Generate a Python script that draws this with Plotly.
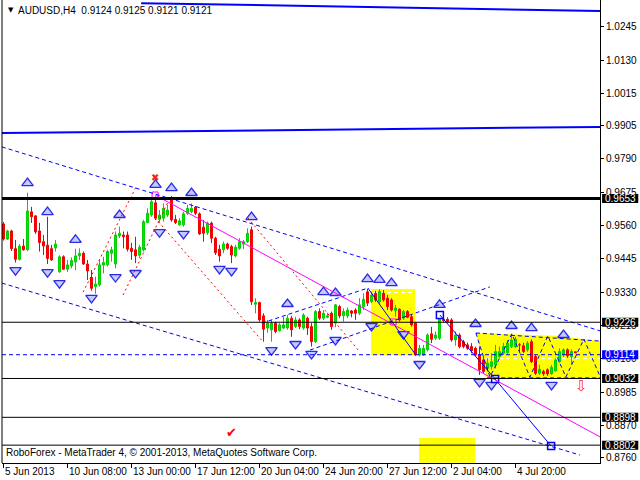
import plotly.graph_objects as go

# ---------------- candle data (H4 bars) ----------------
opens = [0.9565, 0.9513, 0.9541, 0.9480, 0.9443, 0.9489, 0.9476, 0.9607, 0.9593, 0.9541,
         0.9504, 0.9492, 0.9480, 0.9482, 0.9400, 0.9452, 0.9409, 0.9420, 0.9434, 0.9455,
         0.9464, 0.9427, 0.9381, 0.9349, 0.9355, 0.9423, 0.9424, 0.9464, 0.9427, 0.9524,
         0.9527, 0.9527, 0.9481, 0.9476, 0.9457, 0.9476, 0.9570, 0.9596, 0.9638, 0.9581,
         0.9585, 0.9596, 0.9648, 0.9581, 0.9562, 0.9562, 0.9602, 0.9607, 0.9623, 0.9600,
         0.9554, 0.9535, 0.9568, 0.9516, 0.9478, 0.9476, 0.9496, 0.9487, 0.9455, 0.9481,
         0.9496, 0.9504, 0.9545, 0.9288, 0.9294, 0.9248, 0.9206, 0.9200, 0.9223, 0.9197,
         0.9206, 0.9206, 0.9240, 0.9211, 0.9234, 0.9206, 0.9240, 0.9211, 0.9159, 0.9263,
         0.9240, 0.9243, 0.9257, 0.9223, 0.9280, 0.9248, 0.9248, 0.9265, 0.9268, 0.9257,
         0.9280, 0.9331, 0.9297, 0.9326, 0.9297, 0.9326, 0.9309, 0.9303, 0.9266, 0.9271,
         0.9240, 0.9263, 0.9245, 0.9223, 0.9113, 0.9113, 0.9131, 0.9186, 0.9171, 0.9171,
         0.9236, 0.9236, 0.9234, 0.9165, 0.9182, 0.9159, 0.9148, 0.9142, 0.9136, 0.9113,
         0.9096, 0.9067, 0.9073, 0.9079, 0.9108, 0.9119, 0.9121, 0.9142, 0.9142, 0.9148,
         0.9145, 0.9131, 0.9159, 0.9108, 0.9050, 0.9056, 0.9062, 0.9048, 0.9059, 0.9090,
         0.9113, 0.9131, 0.9108, 0.9124]
highs = [0.9572, 0.9545, 0.9545, 0.9510, 0.9496, 0.9513, 0.9673, 0.9624, 0.9596, 0.9569,
         0.9527, 0.9590, 0.9493, 0.9510, 0.9457, 0.9457, 0.9441, 0.9450, 0.9480, 0.9481,
         0.9470, 0.9441, 0.9406, 0.9383, 0.9441, 0.9452, 0.9476, 0.9487, 0.9539, 0.9556,
         0.9539, 0.9539, 0.9500, 0.9521, 0.9493, 0.9579, 0.9619, 0.9650, 0.9660, 0.9613,
         0.9636, 0.9631, 0.9662, 0.9596, 0.9585, 0.9607, 0.9631, 0.9636, 0.9627, 0.9605,
         0.9579, 0.9573, 0.9573, 0.9521, 0.9493, 0.9504, 0.9501, 0.9493, 0.9493, 0.9516,
         0.9510, 0.9550, 0.9556, 0.9309, 0.9297, 0.9257, 0.9234, 0.9234, 0.9228, 0.9223,
         0.9245, 0.9251, 0.9248, 0.9245, 0.9240, 0.9257, 0.9245, 0.9223, 0.9268, 0.9274,
         0.9268, 0.9259, 0.9263, 0.9289, 0.9286, 0.9274, 0.9277, 0.9268, 0.9274, 0.9309,
         0.9326, 0.9341, 0.9331, 0.9334, 0.9340, 0.9337, 0.9320, 0.9309, 0.9286, 0.9274,
         0.9268, 0.9268, 0.9251, 0.9225, 0.9148, 0.9148, 0.9188, 0.9210, 0.9194, 0.9248,
         0.9240, 0.9243, 0.9240, 0.9194, 0.9188, 0.9165, 0.9156, 0.9154, 0.9142, 0.9142,
         0.9106, 0.9102, 0.9119, 0.9148, 0.9142, 0.9155, 0.9165, 0.9182, 0.9176, 0.9154,
         0.9155, 0.9161, 0.9167, 0.9113, 0.9079, 0.9062, 0.9067, 0.9079, 0.9102, 0.9136,
         0.9136, 0.9136, 0.9133, 0.9125]
lows = [0.9508, 0.9510, 0.9472, 0.9432, 0.9439, 0.9473, 0.9471, 0.9569, 0.9531, 0.9470,
        0.9458, 0.9427, 0.9438, 0.9470, 0.9397, 0.9406, 0.9400, 0.9412, 0.9406, 0.9441,
        0.9424, 0.9372, 0.9335, 0.9324, 0.9349, 0.9395, 0.9418, 0.9435, 0.9412, 0.9516,
        0.9481, 0.9470, 0.9441, 0.9430, 0.9447, 0.9470, 0.9568, 0.9590, 0.9579, 0.9570,
        0.9573, 0.9590, 0.9573, 0.9565, 0.9559, 0.9556, 0.9596, 0.9602, 0.9596, 0.9527,
        0.9504, 0.9527, 0.9499, 0.9458, 0.9435, 0.9464, 0.9476, 0.9430, 0.9450, 0.9476,
        0.9478, 0.9499, 0.9286, 0.9257, 0.9228, 0.9159, 0.9190, 0.9159, 0.9188, 0.9194,
        0.9202, 0.9200, 0.9176, 0.9206, 0.9202, 0.9200, 0.9182, 0.9142, 0.9154, 0.9234,
        0.9234, 0.9240, 0.9200, 0.9209, 0.9240, 0.9228, 0.9240, 0.9243, 0.9234, 0.9251,
        0.9268, 0.9282, 0.9292, 0.9296, 0.9286, 0.9297, 0.9268, 0.9263, 0.9245, 0.9228,
        0.9234, 0.9240, 0.9211, 0.9110, 0.9108, 0.9110, 0.9125, 0.9154, 0.9165, 0.9165,
        0.9225, 0.9225, 0.9159, 0.9145, 0.9136, 0.9136, 0.9131, 0.9119, 0.9110, 0.9044,
        0.9050, 0.9056, 0.9062, 0.9067, 0.9103, 0.9113, 0.9117, 0.9137, 0.9137, 0.9125,
        0.9120, 0.9124, 0.9085, 0.9044, 0.9044, 0.9041, 0.9041, 0.9044, 0.9055, 0.9086,
        0.9106, 0.9103, 0.9079, 0.9121]
closes = [0.9513, 0.9541, 0.9480, 0.9443, 0.9489, 0.9476, 0.9610, 0.9590, 0.9538, 0.9501,
          0.9489, 0.9446, 0.9441, 0.9496, 0.9452, 0.9409, 0.9424, 0.9439, 0.9455, 0.9464,
          0.9427, 0.9403, 0.9343, 0.9358, 0.9424, 0.9432, 0.9470, 0.9476, 0.9527, 0.9533,
          0.9521, 0.9478, 0.9470, 0.9455, 0.9485, 0.9573, 0.9602, 0.9642, 0.9585, 0.9596,
          0.9619, 0.9613, 0.9579, 0.9570, 0.9576, 0.9600, 0.9619, 0.9619, 0.9602, 0.9531,
          0.9533, 0.9568, 0.9516, 0.9466, 0.9455, 0.9496, 0.9481, 0.9458, 0.9485, 0.9504,
          0.9504, 0.9533, 0.9297, 0.9294, 0.9234, 0.9202, 0.9223, 0.9223, 0.9194, 0.9217,
          0.9217, 0.9240, 0.9200, 0.9234, 0.9211, 0.9251, 0.9206, 0.9159, 0.9263, 0.9240,
          0.9257, 0.9248, 0.9211, 0.9286, 0.9248, 0.9263, 0.9268, 0.9257, 0.9257, 0.9286,
          0.9305, 0.9292, 0.9320, 0.9303, 0.9332, 0.9303, 0.9280, 0.9268, 0.9275, 0.9234,
          0.9263, 0.9243, 0.9217, 0.9113, 0.9136, 0.9136, 0.9182, 0.9167, 0.9182, 0.9240,
          0.9232, 0.9228, 0.9165, 0.9182, 0.9142, 0.9142, 0.9136, 0.9128, 0.9113, 0.9062,
          0.9056, 0.9085, 0.9090, 0.9125, 0.9125, 0.9142, 0.9154, 0.9165, 0.9167, 0.9148,
          0.9125, 0.9154, 0.9090, 0.9050, 0.9064, 0.9048, 0.9048, 0.9071, 0.9096, 0.9125,
          0.9131, 0.9110, 0.9125, 0.9121]
bars = list(range(len(opens)))

# ---------------- axes ----------------
x_tick_bars = [0, 16, 32, 48, 64, 80, 96, 112, 128]
x_tick_labels = ["5 Jun 2013", "10 Jun 08:00", "13 Jun 00:00", "17 Jun 12:00", "20 Jun 04:00",
                 "24 Jun 20:00", "27 Jun 12:00", "2 Jul 04:00", "4 Jul 20:00"]
y_tick_values = [1.0245, 1.0130, 1.0015, 0.9905, 0.9790, 0.9675, 0.9560, 0.9445, 0.9330,
                 0.9215, 0.9100, 0.8985, 0.8870, 0.8760]

# ---------------- levels / tags ----------------
level_values = [0.9653, 0.9226, 0.9032, 0.8898, 0.8802]
level_widths = [3, 1, 1, 1, 1]
dashed_level = 0.9114
tag_values = [0.9653, 0.9226, 0.9114, 0.9032, 0.8898, 0.8802]
tag_colors = ["black", "black", "#0000ff", "black", "black", "black"]

# ---------------- fractals ----------------
fractal_up_bars = [6, 11, 18, 29, 38, 42, 47, 62, 71, 80, 83, 91, 94, 97, 109, 118, 127, 132, 140]
fractal_up_prices = [0.9706, 0.9606, 0.9510, 0.9596, 0.9700, 0.9689, 0.9672, 0.9589, 0.9289, 0.9330,
                     0.9327, 0.9375, 0.9372, 0.9361, 0.9286, 0.9220, 0.9213, 0.9206, 0.9182]
fractal_dn_bars = [3, 11, 14, 22, 28, 33, 39, 45, 54, 57, 67, 73, 77, 83, 92, 100, 104, 119, 122, 137]
fractal_dn_prices = [0.9406, 0.9399, 0.9361, 0.9310, 0.9382, 0.9396, 0.9537, 0.9531, 0.9410, 0.9403,
                     0.9130, 0.9151, 0.9117, 0.9165, 0.9213, 0.9185, 0.9082, 0.9020, 0.9010, 0.9010]

# ---------------- drawn objects (bar index, price) ----------------
blue_thick_lines = [[(34.4, 1.0327), (149.2, 1.0300)],
                    [(-0.4, 0.9879), (149.2, 0.9900)]]
blue_dashed_lines = [[(-0.4, 0.9831), (149.2, 0.9196)],
                     [(-0.4, 0.9361), (144.1, 0.8768)],
                     [(64.6, 0.9223), (91.1, 0.9344)],
                     [(76.6, 0.9130), (121.6, 0.9348)],
                     [(118.1, 0.9189), (121.6, 0.9037), (127.1, 0.9186), (131.6, 0.9037),
                      (136.1, 0.9179), (140.6, 0.9037), (145.1, 0.9168), (149.2, 0.9037)],
                     [(118.1, 0.9189), (149.2, 0.9161)],
                     [(120.9, 0.9034), (149.2, 0.9034)]]
blue_solid_lines = [[(109.1, 0.9251), (122.9, 0.9030), (136.9, 0.8799)],
                    [(91.1, 0.9344), (103.1, 0.9113)]]
red_dotted_lines = [[(19.9, 0.9330), (33.4, 0.9700)],
                    [(29.9, 0.9320), (41.1, 0.9640)],
                    [(37.9, 0.9586), (64.9, 0.9158)],
                    [(61.1, 0.9586), (89.1, 0.9123)]]
magenta_lines = [[(37.9, 0.9665), (149.2, 0.8830)]]
yellow_rects = [(91.9, 0.9341, 102.9, 0.9113), (103.9, 0.8827, 117.9, 0.8741)]
yellow_polys = [[(118.1, 0.9189), (138.1, 0.9179), (149.2, 0.9161), (149.2, 0.9034), (120.9, 0.9034)]]
magenta_square_bars = [37.9, 97.4]
magenta_square_prices = [0.9665, 0.9227]
blue_square_bars = [109.1, 122.9, 136.9]
blue_square_prices = [0.9251, 0.9030, 0.8799]
red_cross = (37.9, 0.9724)
red_check = (57.1, 0.8847)
red_down = (144.4, 0.9006)

FONT = "Liberation Sans, Arial, sans-serif"

fig = go.Figure()
fig.add_trace(go.Candlestick(
    x=bars, open=opens, high=highs, low=lows, close=closes,
    increasing=dict(line=dict(color="#00d000", width=1), fillcolor="#00e800"),
    decreasing=dict(line=dict(color="#f00000", width=1), fillcolor="#ff0000"),
    whiskerwidth=0, hoverinfo="skip"))

fig.add_trace(go.Scatter(
    x=fractal_up_bars, y=fractal_up_prices, mode="markers",
    marker=dict(symbol="triangle-up", size=10, color="#c4caff",
                line=dict(color="#2a2ae6", width=1.3)), hoverinfo="skip"))
fig.add_trace(go.Scatter(
    x=fractal_dn_bars, y=fractal_dn_prices, mode="markers",
    marker=dict(symbol="triangle-down", size=10, color="#c4caff",
                line=dict(color="#2a2ae6", width=1.3)), hoverinfo="skip"))
fig.add_trace(go.Scatter(
    x=magenta_square_bars, y=magenta_square_prices, mode="markers",
    marker=dict(symbol="square-open", size=6, color="#ff00ff", line=dict(width=1)),
    hoverinfo="skip"))
fig.add_trace(go.Scatter(
    x=blue_square_bars, y=blue_square_prices, mode="markers",
    marker=dict(symbol="square", size=7, color="white", line=dict(color="#0000ff", width=1.5)),
    hoverinfo="skip"))

shapes = []


def path_of(pts, close=False):
    s = "M " + " L ".join(f"{x},{y}" for x, y in pts)
    return s + (" Z" if close else "")


for x0, y0, x1, y1 in yellow_rects:
    shapes.append(dict(type="rect", xref="x", yref="y", x0=x0, x1=x1, y0=y0, y1=y1,
                       fillcolor="#ffff00", line=dict(width=0), layer="below"))
for pts in yellow_polys:
    shapes.append(dict(type="path", xref="x", yref="y", path=path_of(pts, True),
                       fillcolor="#ffff00", line=dict(width=0), layer="below"))

for pts in blue_thick_lines:
    shapes.append(dict(type="path", xref="x", yref="y", path=path_of(pts),
                       line=dict(color="#0000ff", width=2)))
for pts in blue_dashed_lines:
    shapes.append(dict(type="path", xref="x", yref="y", path=path_of(pts),
                       line=dict(color="#0000ff", width=1, dash="4px,3px")))
shapes.append(dict(type="line", xref="paper", yref="y", x0=0, x1=1, y0=dashed_level, y1=dashed_level,
                   line=dict(color="#0000ff", width=1, dash="4px,3px")))
for pts in blue_solid_lines:
    shapes.append(dict(type="path", xref="x", yref="y", path=path_of(pts),
                       line=dict(color="#0000ff", width=1)))
for pts in red_dotted_lines:
    shapes.append(dict(type="path", xref="x", yref="y", path=path_of(pts),
                       line=dict(color="#ff0000", width=1, dash="2px,3px")))
for pts in magenta_lines:
    shapes.append(dict(type="path", xref="x", yref="y", path=path_of(pts),
                       line=dict(color="#ff00ff", width=1)))
for v, w in zip(level_values, level_widths):
    shapes.append(dict(type="line", xref="paper", yref="y", x0=0, x1=1, y0=v, y1=v,
                       line=dict(color="black", width=w)))
# left border
shapes.append(dict(type="line", xref="paper", yref="paper", x0=0, x1=0, y0=0, y1=1,
                   line=dict(color="black", width=1)))

annotations = []
# price tags on the axis
half = 0.00155
for v, c in zip(tag_values, tag_colors):
    shapes.append(dict(type="rect", xref="paper", yref="y", x0=1.0035, x1=1.064,
                       y0=v - half, y1=v + half, fillcolor=c, line=dict(width=0), layer="above"))
    annotations.append(dict(xref="paper", yref="y", x=1, y=v, xanchor="left", yanchor="middle",
                            xshift=3, text=f"{v:.4f}", showarrow=False,
                            font=dict(family=FONT, size=10, color="white")))

for b, lab in zip(x_tick_bars, x_tick_labels):
    annotations.append(dict(xref="x", yref="paper", x=b, y=0, xanchor="left", yanchor="top",
                            xshift=-1, yshift=-1, text=lab, showarrow=False,
                            font=dict(family=FONT, size=10, color="black")))

annotations.append(dict(xref="paper", yref="paper", x=0, y=1, xanchor="left", yanchor="top",
                        xshift=4, yshift=-4, text="▼", showarrow=False,
                        font=dict(family="DejaVu Sans", size=7, color="black")))
annotations.append(dict(xref="paper", yref="paper", x=0, y=1, xanchor="left", yanchor="top",
                        xshift=14, yshift=-3, text="AUDUSD,H4  0.9124 0.9125 0.9121 0.9121",
                        showarrow=False, font=dict(family=FONT, size=10, color="black")))
annotations.append(dict(xref="paper", yref="paper", x=0, y=0, xanchor="left", yanchor="bottom",
                        xshift=2, yshift=3,
                        text="RoboForex - MetaTrader 4, © 2001-2013, MetaQuotes Software Corp.",
                        showarrow=False, font=dict(family=FONT, size=10, color="black")))
annotations.append(dict(xref="x", yref="y", x=red_cross[0], y=red_cross[1], text="✖",
                        showarrow=False, font=dict(family="DejaVu Sans", size=10, color="#ff2020")))
annotations.append(dict(xref="x", yref="y", x=red_check[0], y=red_check[1], text="✔",
                        showarrow=False, font=dict(family="DejaVu Sans", size=13, color="#ff0000")))
annotations.append(dict(xref="x", yref="y", x=red_down[0], y=red_down[1], text="⇩",
                        showarrow=False, font=dict(family="DejaVu Sans", size=15, color="#ff3030")))

fig.update_layout(
    width=640, height=480,
    margin=dict(l=2, r=40, t=0, b=17),
    paper_bgcolor="white", plot_bgcolor="white",
    showlegend=False,
    shapes=shapes, annotations=annotations,
    xaxis=dict(range=[-0.375, 149.125], showgrid=False, zeroline=False,
               rangeslider=dict(visible=False),
               tickmode="array", tickvals=x_tick_bars, showticklabels=False,
               ticks="outside", ticklen=4, tickcolor="black",
               showline=True, linecolor="black", linewidth=1),
    yaxis=dict(range=[0.87404, 1.03378], side="right", zeroline=False,
               tickmode="array", tickvals=y_tick_values,
               ticktext=[f"{v:.4f}" for v in y_tick_values],
               ticks="outside", ticklen=3, tickcolor="black",
               tickfont=dict(family=FONT, size=10, color="black"),
               showline=True, linecolor="black", linewidth=1,
               showgrid=True, gridcolor="white", griddash="4px,3px", gridwidth=1),
)

fig.write_html("out.html", config={"displayModeBar": False},
               post_script="document.body.style.margin='0';document.body.style.overflow='hidden';")
